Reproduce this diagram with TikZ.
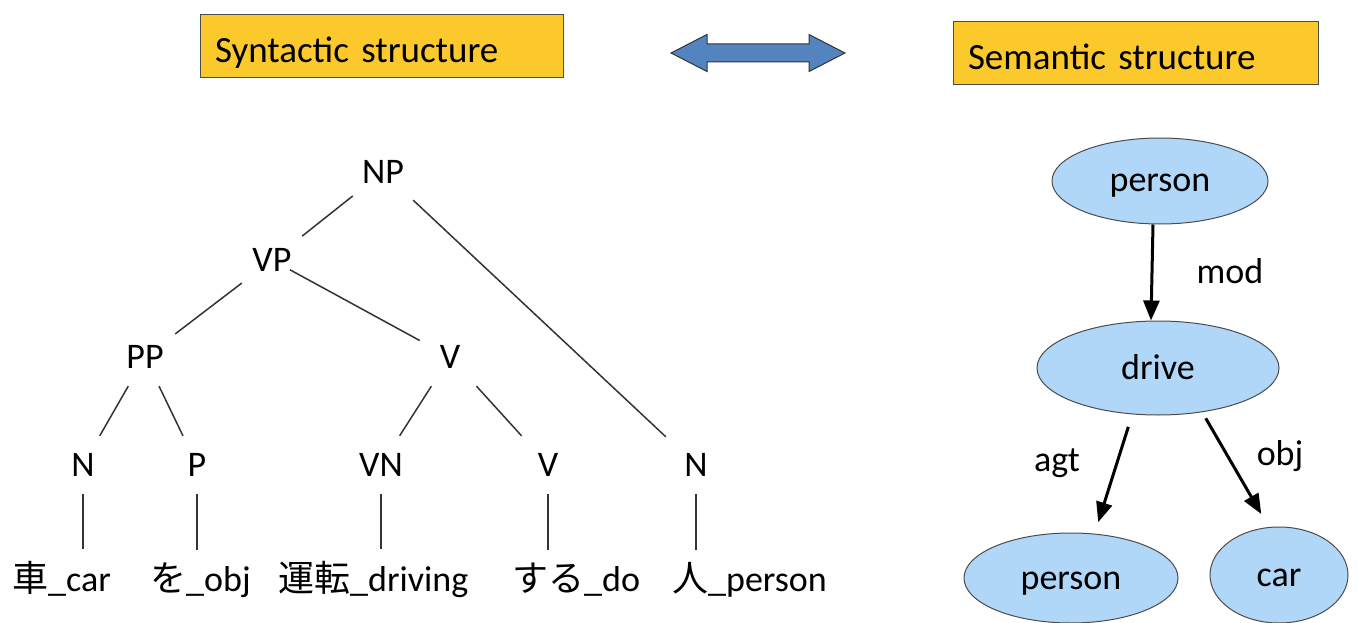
\documentclass[tikz,border=0pt]{standalone}
\usepackage{fontspec}
\setmainfont{Carlito}
\newfontfamily\jpfont{Noto Sans CJK JP}
\usetikzlibrary{arrows.meta, shapes.geometric}
\definecolor{boxgold}{RGB}{252,201,44}
\definecolor{arrowblue}{RGB}{84,132,192}
\definecolor{nodeblue}{RGB}{176,214,248}
\tikzset{every picture/.style = {x=1pt, y=-1pt, font=\fontsize{36}{43}\selectfont}}
\tikzset{headbox/.style = {draw=black!70, line width=1pt, fill=boxgold, align=left, inner xsep=15pt, inner ysep=11pt, text height=37pt, text depth=4pt, font=\fontsize{37}{44}\selectfont}}
\tikzset{cat/.style = {shape=rectangle, inner sep=0, minimum width=60pt, minimum height=58pt}}
\tikzset{word/.style = {anchor=base west, inner xsep=0, inner ysep=12pt}}
\tikzset{branch/.style = {draw=black!80, line width=1.5pt}}
\tikzset{sem/.style = {shape=ellipse, draw=black!70, line width=1pt, fill=nodeblue, inner sep=0, text height=22pt, text depth=0pt}}
\tikzset{relarrow/.style = {-{Triangle[length=20pt,width=16pt]}, line width=3pt}}

\begin{document}
\begin{tikzpicture}
  \useasboundingbox (0, 0) rectangle (1358, 623);

  % headings
  \node[headbox, text width=333pt] (syn) at (381.5, 46.5) {Syntactic structure};
  \node[headbox, text width=335pt] (sem) at (1135.5, 53) {Semantic structure};
  \draw[draw=black!80, line width=1pt, fill=arrowblue]
    (671, 53) -- (707, 34.5) -- (707, 44) -- (809, 44) -- (809, 34.5)
    -- (845, 53) -- (809, 71.5) -- (809, 62) -- (707, 62) -- (707, 71.5) -- cycle;

  % parse tree
  \node[cat] (np) at (383, 172) {NP};
  \node[cat] (vp) at (272, 260) {VP};
  \node[cat] (pp) at (145, 357) {PP};
  \node[cat] (v1) at (450, 357) {V};
  \node[cat] (n1) at (83, 465) {N};
  \node[cat] (p1) at (197, 465) {P};
  \node[cat] (vn) at (381, 465) {VN};
  \node[cat] (v2) at (548, 465) {V};
  \node[cat] (n2) at (696, 465) {N};

  \node[word] (w1) at (12, 591) {{\jpfont 車}\_car};
  \node[word] (w2) at (150, 591) {{\jpfont を}\_obj};
  \node[word] (w3) at (278, 591) {{\jpfont 運転}\_driving};
  \node[word] (w4) at (512, 591) {{\jpfont する}\_do};
  \node[word] (w5) at (672, 591) {{\jpfont 人}\_person};

  \draw[branch] (np) -- (vp);
  \draw[branch] (np) -- (n2);
  \draw[branch] (vp) -- (pp);
  \draw[branch, shorten <=-14pt] (vp) -- (v1);
  \draw[branch] (pp) -- (n1);
  \draw[branch] (pp) -- (p1);
  \draw[branch] (v1) -- (vn);
  \draw[branch] (v1) -- (v2);
  \draw[branch] (n1.south) -- (n1 |- w1.north);
  \draw[branch] (p1.south) -- (p1 |- w2.north);
  \draw[branch] (vn.south) -- (vn |- w3.north);
  \draw[branch] (v2.south) -- (v2 |- w4.north);
  \draw[branch] (n2.south) -- (n2 |- w5.north);

  % semantic graph
  \node[sem, minimum width=216pt, minimum height=86pt] (person) at (1160, 181) {person};
  \node[sem, minimum width=242pt, minimum height=94pt] (drive) at (1158, 368) {drive};
  \node[sem, minimum width=214pt, minimum height=90pt] (agent) at (1071, 578) {person};
  \node[sem, minimum width=138pt, minimum height=96pt] (car) at (1279, 575) {car};

  \draw[relarrow] ([xshift=-7pt]person.south) -- ([xshift=-7pt]drive.north);
  \draw[relarrow, shorten <=13pt, shorten >=12pt] (drive.-119) -- (agent.62);
  \draw[relarrow, shorten <=7pt, shorten >=15pt] (drive.-45) -- (car.102);

  \node (lmod) at (1230, 271) {mod};
  \node (lagt) at (1057, 463) {agt};
  \node (lobj) at (1280, 456) {obj};
\end{tikzpicture}
\end{document}
